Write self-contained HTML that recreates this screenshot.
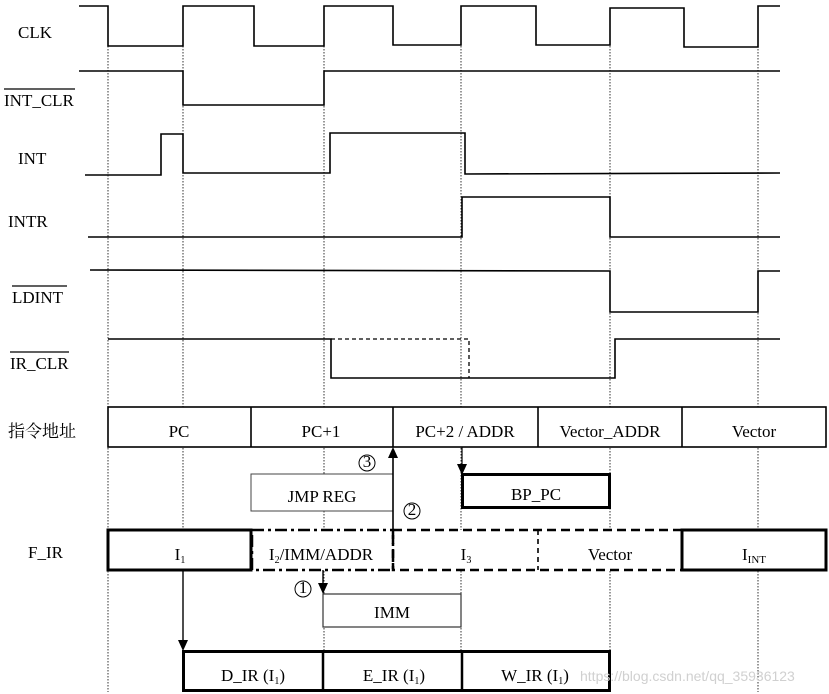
<!DOCTYPE html>
<html><head><meta charset="utf-8"><style>
html,body{margin:0;padding:0;background:#fff}
svg{display:block}
text{font-family:"Liberation Serif","Noto Serif CJK SC",serif;font-size:17px;fill:#000}
</style></head><body>
<svg width="829" height="694" viewBox="0 0 829 694" xmlns="http://www.w3.org/2000/svg">
<g stroke="#000" stroke-width="0.8" stroke-dasharray="1.5,1.5" fill="none">
<line x1="108" y1="46" x2="108" y2="692"/>
<line x1="183" y1="46" x2="183" y2="692"/>
<line x1="324" y1="46" x2="324" y2="692"/>
<line x1="461" y1="46" x2="461" y2="692"/>
<line x1="610" y1="46" x2="610" y2="692"/>
<line x1="758" y1="46" x2="758" y2="692"/>
</g>
<g stroke="#000" stroke-width="1.6" fill="none">
<polyline points="79,6 108,6 108,46 183,46 183,6 254,6 254,46 324,46 324,6 393,6 393,45 461,45 461,6 536,6 536,45 610,45 610,8 684,8 684,47 758,47 758,6 780,6"/>
<polyline points="79,71 183,71 183,105 324,105 324,71 780,71"/>
<polyline points="85,175 161,175 161,134 183,134 183,173 330,173 330,133 465,133 465,174 780,173"/>
<polyline points="88,237 462,237 462,197 610,197 610,237 780,237"/>
<polyline points="90,270 610,271 610,312 758,312 758,271 780,271"/>
<polyline points="108,339 331,339 331,378 615,378 615,339 780,339"/>
<polyline points="331,339 469,339 469,378" stroke-dasharray="4,3" stroke-width="1.3"/>
</g>
<rect x="108" y="407" width="718" height="40" fill="#fff" stroke="#000" stroke-width="1.6"/>
<g stroke="#000" stroke-width="1.6">
<line x1="251" y1="407" x2="251" y2="447"/><line x1="393" y1="407" x2="393" y2="447"/>
<line x1="538" y1="407" x2="538" y2="447"/><line x1="682" y1="407" x2="682" y2="447"/>
</g>
<rect x="251" y="474" width="142" height="37" fill="#fff" stroke="#444" stroke-width="1"/>
<rect x="462.5" y="474.5" width="147" height="33" fill="#fff" stroke="#000" stroke-width="3"/>
<line x1="393" y1="530" x2="393" y2="456" stroke="#000" stroke-width="1.6"/>
<polygon points="393,447 388,458 398,458" fill="#000"/>
<line x1="462" y1="447" x2="462" y2="466" stroke="#000" stroke-width="1.2"/>
<polygon points="462,475 457,464 467,464" fill="#000"/>
<rect x="108" y="530" width="718" height="40" fill="#fff" stroke="none"/>
<rect x="108" y="530" width="143" height="40" fill="none" stroke="#000" stroke-width="3"/>
<rect x="682" y="530" width="144" height="40" fill="none" stroke="#000" stroke-width="3"/>
<rect x="252" y="530" width="141" height="40" fill="none" stroke="#000" stroke-width="2.5" stroke-dasharray="12,4,3,4"/>
<rect x="393" y="530" width="289" height="40" fill="none" stroke="#000" stroke-width="2.5" stroke-dasharray="9,5"/>
<line x1="538" y1="530" x2="538" y2="570" stroke="#000" stroke-width="1.6" stroke-dasharray="5,4"/>
<line x1="323" y1="570" x2="323" y2="585" stroke="#000" stroke-width="1.4"/>
<polygon points="323,594 318,583 328,583" fill="#000"/>
<rect x="323" y="594" width="138" height="33" fill="#fff" stroke="#333" stroke-width="1.2"/>
<line x1="183" y1="570" x2="183" y2="642" stroke="#000" stroke-width="1.4"/>
<polygon points="183,651 178,640 188,640" fill="#000"/>
<rect x="183.5" y="651.5" width="426" height="39" fill="#fff" stroke="#000" stroke-width="3"/>
<line x1="323" y1="651" x2="323" y2="691" stroke="#000" stroke-width="2.5"/>
<line x1="462" y1="651" x2="462" y2="691" stroke="#000" stroke-width="2.5"/>
<text x="18" y="38">CLK</text>
<text x="4" y="106">INT_CLR</text><line x1="4" y1="89" x2="75" y2="89" stroke="#000" stroke-width="1.2"/>
<text x="18" y="164">INT</text>
<text x="8" y="227">INTR</text>
<text x="12" y="303">LDINT</text><line x1="12" y1="286" x2="67" y2="286" stroke="#000" stroke-width="1.2"/>
<text x="10" y="369">IR_CLR</text><line x1="10" y1="352" x2="69" y2="352" stroke="#000" stroke-width="1.2"/>
<text x="8" y="437" style="font-family:'Noto Serif CJK SC',serif;font-size:17px">指令地址</text>
<text x="28" y="558">F_IR</text>
<g text-anchor="middle">
<text x="179" y="437">PC</text>
<text x="321" y="437">PC+1</text>
<text x="465" y="437">PC+2 / ADDR</text>
<text x="610" y="437">Vector_ADDR</text>
<text x="754" y="437">Vector</text>
<text x="322" y="502">JMP  REG</text>
<text x="536" y="500">BP_PC</text>
<text x="392" y="618">IMM</text>
<text x="180" y="560">I<tspan font-size="10" dy="3">1</tspan></text>
<text x="321" y="560">I<tspan font-size="10" dy="3">2</tspan><tspan dy="-3">/IMM/ADDR</tspan></text>
<text x="466" y="560">I<tspan font-size="10" dy="3">3</tspan></text>
<text x="610" y="560">Vector</text>
<text x="754" y="560">I<tspan font-size="11" dy="3">INT</tspan></text>
<text x="253" y="681">D_IR (I<tspan font-size="10" dy="3">1</tspan><tspan dy="-3">)</tspan></text>
<text x="394" y="681">E_IR (I<tspan font-size="10" dy="3">1</tspan><tspan dy="-3">)</tspan></text>
<text x="535" y="681">W_IR (I<tspan font-size="10" dy="3">1</tspan><tspan dy="-3">)</tspan></text>
</g>
<g fill="none" stroke="#000" stroke-width="1"><circle cx="367" cy="463" r="8"/><circle cx="412" cy="511" r="8"/><circle cx="303" cy="589" r="8"/></g>
<g text-anchor="middle"><text x="367" y="467" font-size="12">3</text><text x="412" y="515" font-size="12">2</text><text x="303" y="593" font-size="12">1</text></g>
<text x="580" y="681" style="fill:#d0d0d0;font-family:'Liberation Sans',sans-serif;font-size:14px">https://blog.csdn.net/qq_35936123</text>
</svg>
</body></html>
